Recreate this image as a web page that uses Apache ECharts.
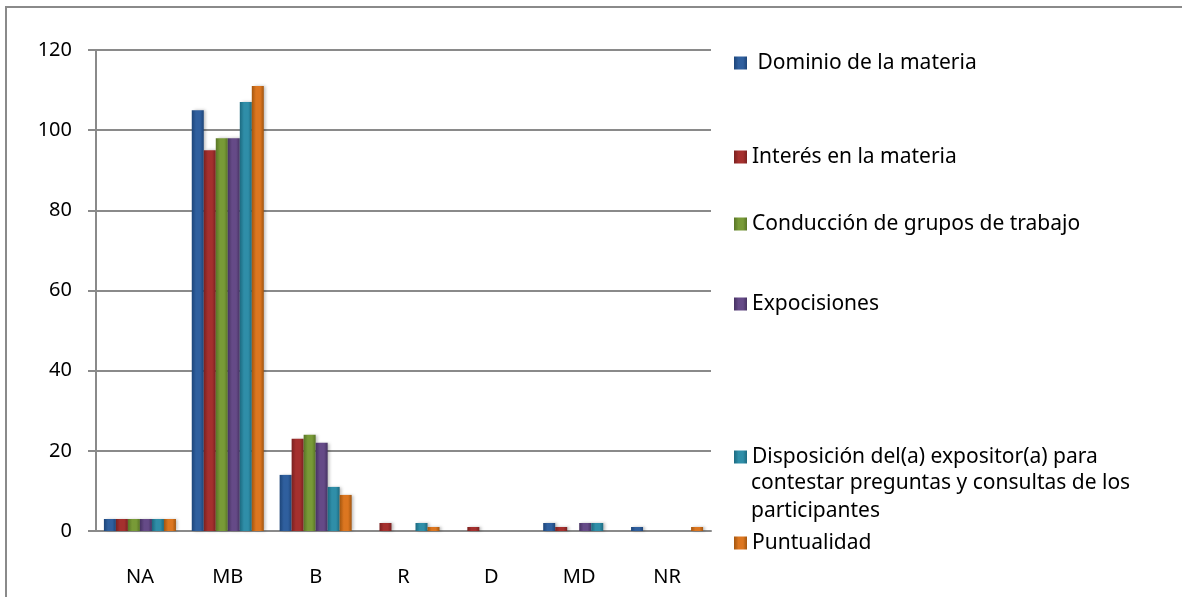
<!DOCTYPE html>
<html lang="es">
<head>
<meta charset="utf-8" />
<title>Evaluación</title>
<style>
  html, body { margin: 0; padding: 0; background: #fff; }
  #main { width: 1182px; height: 597px; }
</style>
</head>
<body>
<div id="main"></div>
<script src="https://cdn.jsdelivr.net/npm/echarts@6/dist/echarts.min.js"></script>
<script>
// categorias del eje x
var categorias = ['NA', 'MB', 'B', 'R', 'D', 'MD', 'NR'];
var nombres = [
  ' Dominio de la materia',
  'Interés en la materia',
  'Conducción de grupos de trabajo',
  'Expocisiones',
  'Disposición del(a) expositor(a) para',
  'Puntualidad'
];
// resto del texto largo de la leyenda
var lineasExtra = ['contestar preguntas y consultas de los', 'participantes'];
var dominio     = [3, 105, 14, 0, 0, 2, 1];
var interes     = [3, 95, 23, 2, 1, 1, 0];
var conduccion  = [3, 98, 24, 0, 0, 0, 0];
var expociones  = [3, 98, 22, 0, 0, 2, 0];
var disposicion = [3, 107, 11, 2, 0, 2, 0];
var puntualidad = [3, 111, 9, 1, 0, 0, 1];
var valores = [dominio, interes, conduccion, expociones, disposicion, puntualidad];

// colores tipo excel 2007 (oscuro, medio, claro)
var colores = [
  ['#1d4579', '#2f5f9e', '#4f81bd'],
  ['#7a2120', '#a5302e', '#c0504d'],
  ['#587526', '#789a37', '#9bbb59'],
  ['#463262', '#654a87', '#8064a2'],
  ['#1c6a80', '#2f8ea8', '#4bacc6'],
  ['#a3560f', '#dc7620', '#f79646']
];

function grad(c) {
  return new echarts.graphic.LinearGradient(0, 0, 1, 0, [
    { offset: 0, color: c[0] },
    { offset: 0.35, color: c[1] },
    { offset: 0.7, color: c[1] },
    { offset: 1, color: c[0] }
  ]);
}

var fuente = '"Noto Sans", sans-serif';
var posLeyenda = [44, 138, 205, 285, 438, 524];

var series = [];
var leyendas = [];
for (var i = 0; i < valores.length; i++) {
  series.push({
    name: nombres[i],
    type: 'bar',
    data: valores[i],
    barGap: '0%',
    barCategoryGap: '18%',
    itemStyle: {
      color: grad(colores[i]),
      shadowColor: 'rgba(0,0,0,0.25)',
      shadowBlur: 3,
      shadowOffsetX: 2
    }
  });
  leyendas.push({
    data: [{ name: nombres[i], icon: 'rect', itemStyle: { color: grad(colores[i]) } }],
    left: 729,
    top: posLeyenda[i],
    itemWidth: 13,
    itemHeight: 13,
    itemGap: 0,
    selectedMode: false,
    textStyle: { fontFamily: fuente, fontSize: 21, color: '#000', lineHeight: 28 }
  });
}

var textosExtra = lineasExtra.map(function (t, k) {
  return {
    type: 'text', left: 751, top: 473 + k * 28,
    style: { text: t, font: '21px "Noto Sans", sans-serif', fill: '#000' }
  };
});

var chart = echarts.init(document.getElementById('main'));
chart.setOption({
  animation: false,
  legend: leyendas,
  grid: { left: 96, right: 471, top: 50, bottom: 66 },
  graphic: [
    { type: 'polyline', shape: { points: [[6, 597], [6, 7], [1182, 7]] },
      style: { stroke: '#8a8a8a', lineWidth: 2, fill: null } }
  ].concat(textosExtra),
  xAxis: {
    type: 'category',
    data: categorias,
    axisLine: { lineStyle: { color: '#8a8a8a', width: 2 } },
    axisTick: { length: 8, lineStyle: { color: '#8a8a8a', width: 2 } },
    axisLabel: { fontFamily: fuente, fontSize: 20, color: '#000', margin: 36 }
  },
  yAxis: {
    type: 'value',
    min: 0,
    max: 120,
    interval: 20,
    axisLine: { show: true, lineStyle: { color: '#8a8a8a', width: 2 } },
    axisTick: { show: true, length: 8, lineStyle: { color: '#8a8a8a', width: 2 } },
    splitLine: { lineStyle: { color: '#8a8a8a', width: 2 } },
    axisLabel: { fontFamily: fuente, fontSize: 20, color: '#000', margin: 24 }
  },
  series: series
});
</script>
</body>
</html>
